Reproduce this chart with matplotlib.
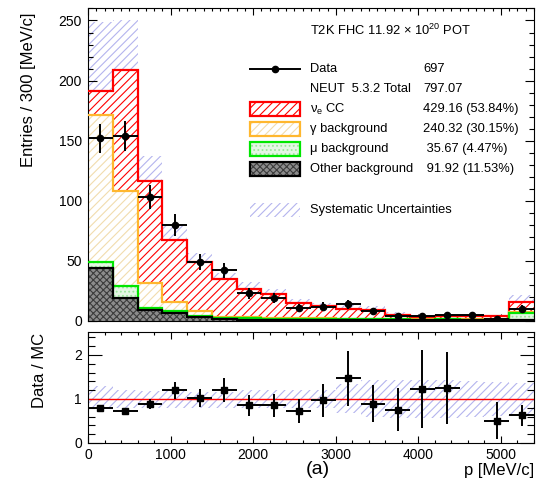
import numpy as np
import matplotlib
matplotlib.use("Agg")
import matplotlib.pyplot as plt
from matplotlib.patches import Rectangle
from matplotlib.lines import Line2D
from matplotlib.ticker import MultipleLocator

plt.rcParams['font.family'] = ['Liberation Sans', 'DejaVu Sans']
plt.rcParams['hatch.linewidth'] = 0.8

# momentum bins [MeV/c]
edges = np.arange(0, 5401, 300)

# predicted events per bin (read from the stack)
other_bg = [44.0, 19.4, 9.2, 6.4, 3.0, 1.4, 1.1, 1.0, 0.9, 0.8, 0.7, 0.6, 0.5, 0.5, 0.5, 0.5, 0.4, 1.2]
mu_bg = [4.7, 10.0, 1.9, 2.2, 1.4, 0.9, 1.1, 1.0, 0.9, 0.9, 0.8, 0.8, 0.8, 0.7, 0.8, 0.7, 0.7, 5.3]
gamma_bg = [122.4, 78.8, 20.1, 6.8, 3.6, 1.3, 0.7, 0.7, 0.7, 0.5, 0.5, 0.5, 0.5, 0.5, 0.5, 0.5, 0.5, 1.0]
nue_cc = [20.2, 100.3, 85.1, 51.9, 41.1, 31.1, 23.8, 19.5, 12.8, 10.6, 7.6, 7.1, 3.5, 1.6, 2.2, 2.1, 2.3, 8.5]

# data
data = [152, 154, 103, 80, 49, 42, 23, 19, 11, 12, 14, 8, 4, 4, 5, 5, 2, 10]
data_err = [12.3, 12.4, 10.1, 8.9, 7.0, 6.5, 4.8, 4.4, 3.3, 3.5, 3.7, 2.8, 2.0, 2.0, 2.2, 2.2, 1.4, 3.2]

# data / MC
ratio = [0.80, 0.735, 0.89, 1.20, 1.02, 1.21, 0.86, 0.86, 0.73, 0.97, 1.47, 0.89, 0.76, 1.23, 1.25, np.nan, 0.51, 0.63]
ratio_err = [0.05, 0.05, 0.11, 0.19, 0.20, 0.27, 0.24, 0.26, 0.27, 0.38, 0.62, 0.42, 0.48, 0.89, 0.82, np.nan, 0.42, 0.24]

# systematic band (relative to MC)
sys_up = [1.30, 1.20, 1.18, 1.18, 1.16, 1.16, 1.20, 1.20, 1.20, 1.20, 1.35, 1.42, 1.43, 1.43, 1.43, 1.40, 1.38, 1.36]
sys_lo = [0.77, 0.79, 0.80, 0.80, 0.80, 0.80, 0.80, 0.80, 0.80, 0.79, 0.68, 0.58, 0.56, 0.56, 0.56, 0.60, 0.62, 0.63]

legend_labels = [r'$\mathregular{\nu_e}$ CC', 'γ background', 'μ background', 'Other background']
legend_values = ['429.16 (53.84%)', '240.32 (30.15%)', ' 35.67 (4.47%)', ' 91.92 (11.53%)']

RED = '#ff0000'
ORANGE = '#ffb72e'
GREEN = '#00e600'
SYS = '#b4b4ee'


def hatched(ax, top, bottom, face, hatch, hcolor, z):
    ax.stairs(top, edges, baseline=bottom, fill=True, facecolor=face,
              edgecolor='none', lw=0, zorder=z)
    if hatch:
        ax.stairs(top, edges, baseline=bottom, fill=True, facecolor='none',
                  edgecolor=hcolor, hatch=hatch, lw=0, zorder=z)


def legend_box(ax, y, face, hatch, hcolor, edge):
    x0, w, h = 0.363, 0.112, 0.045
    ax.add_patch(Rectangle((x0, y - h / 2), w, h, transform=ax.transAxes,
                           facecolor=face, edgecolor='none', lw=0, zorder=20))
    if hatch:
        ax.add_patch(Rectangle((x0, y - h / 2), w, h, transform=ax.transAxes,
                               facecolor='none', edgecolor=hcolor, hatch=hatch, lw=0, zorder=20))
    if edge:
        ax.add_patch(Rectangle((x0, y - h / 2), w, h, transform=ax.transAxes,
                               facecolor='none', edgecolor=edge, lw=1.6, zorder=21))


def style_ticks(ax, ymaj, ymin, xmin, ylen):
    ax.xaxis.set_major_locator(MultipleLocator(1000))
    ax.xaxis.set_minor_locator(MultipleLocator(xmin))
    ax.yaxis.set_major_locator(MultipleLocator(ymaj))
    ax.yaxis.set_minor_locator(MultipleLocator(ymin))
    ax.tick_params(which='both', direction='in', top=True, right=True, labelsize=10, width=0.8)
    ax.tick_params(axis='x', which='major', length=5, pad=3.5)
    ax.tick_params(axis='x', which='minor', length=2.5)
    ax.tick_params(axis='y', which='major', length=ylen, pad=4.5)
    ax.tick_params(axis='y', which='minor', length=ylen / 2)
    for s in ax.spines.values():
        s.set_linewidth(0.8)


fig = plt.figure(figsize=(5.37, 4.79), dpi=100)
ax = fig.add_axes([0.1639, 0.3299, 0.8305, 0.6524])
rax = fig.add_axes([0.1639, 0.0752, 0.8305, 0.2324])

c1 = np.array(other_bg)
c2 = c1 + np.array(mu_bg)
c3 = c2 + np.array(gamma_bg)
total = c3 + np.array(nue_cc)
centers = 0.5 * (edges[:-1] + edges[1:])

# systematic band behind the stack
hatched(ax, total * np.array(sys_up), total * np.array(sys_lo), 'none', '////', SYS, 1)

hatched(ax, total, c3, 'white', '////', RED, 2)
hatched(ax, c3, c2, 'white', '////', '#f2dcae', 2)
hatched(ax, c2, c1, '#e4f7e4', '....', '#9be69b', 2)
hatched(ax, c1, 0, '#8c8c8c', 'xxxxx', '#3c3c3c', 2)

ax.stairs(total, edges, baseline=None, color=RED, lw=1.6, zorder=3)
ax.stairs(c3, edges, baseline=None, color=ORANGE, lw=1.6, zorder=3)
ax.stairs(c2, edges, baseline=None, color=GREEN, lw=1.6, zorder=3)
ax.stairs(c1, edges, baseline=None, color='black', lw=1.6, zorder=3)

ax.errorbar(centers, data, xerr=150, yerr=data_err, fmt='o', color='black',
            ms=4.5, elinewidth=1.4, capsize=0, zorder=10)

ax.set_xlim(0, 5400)
ax.set_ylim(0, 260)
style_ticks(ax, 50, 10, 100, 6.5)
ax.tick_params(labelbottom=False)

# legend
fs = 9.3
ax.text(0.498, 0.931, 'T2K FHC 11.92 × $\\mathregular{10^{20}}$ POT', transform=ax.transAxes,
        fontsize=fs, va='center', ha='left')
ax.add_line(Line2D([0.363, 0.419, 0.475], [0.805, 0.805, 0.805], transform=ax.transAxes,
                   color='black', lw=1.4, marker='o', markevery=[1], ms=4.5, zorder=20))
ax.text(0.498, 0.805, 'Data', transform=ax.transAxes, fontsize=fs, va='center')
ax.text(0.753, 0.805, '697', transform=ax.transAxes, fontsize=fs, va='center')
ax.text(0.498, 0.741, 'NEUT  5.3.2 Total', transform=ax.transAxes, fontsize=fs, va='center')
ax.text(0.753, 0.741, '797.07', transform=ax.transAxes, fontsize=fs, va='center')

rows = [0.678, 0.614, 0.550, 0.486]
legend_box(ax, rows[0], 'white', '////', RED, RED)
legend_box(ax, rows[1], 'white', '////', '#f2dcae', ORANGE)
legend_box(ax, rows[2], '#e4f7e4', '....', '#9be69b', GREEN)
legend_box(ax, rows[3], '#8c8c8c', 'xxxxx', '#3c3c3c', 'black')
for y, lab, val in zip(rows, legend_labels, legend_values):
    ax.text(0.498, y, lab, transform=ax.transAxes, fontsize=fs, va='center')
    ax.text(0.751, y, val, transform=ax.transAxes, fontsize=fs, va='center')

legend_box(ax, 0.355, 'none', '////', SYS, None)
ax.text(0.498, 0.355, 'Systematic Uncertainties', transform=ax.transAxes, fontsize=fs, va='center')

# ratio panel
rax.stairs(sys_up, edges, baseline=sys_lo, fill=True, facecolor='none',
           edgecolor=SYS, hatch='////', lw=0, zorder=1)
rax.axhline(1, color=RED, lw=1.0, zorder=2)
rax.errorbar(centers, ratio, xerr=150, yerr=ratio_err, fmt='s', color='black',
             ms=5, elinewidth=1.4, capsize=0, zorder=10)
rax.set_xlim(0, 5400)
rax.set_ylim(0, 2.53)
style_ticks(rax, 1, 0.2, 200, 10)

fig.text(29 / 537, 1 - 13 / 479, 'Entries / 300 [MeV/c]', rotation=90, ha='center', va='top', fontsize=12)
fig.text(40 / 537, 1 - 333 / 479, 'Data / MC', rotation=90, ha='center', va='top', fontsize=12)
fig.text(534 / 537, 1 - 471 / 479, 'p [MeV/c]', ha='right', va='center', fontsize=12)
fig.text(318 / 537, 1 - 469 / 479, '(a)', ha='center', va='center', fontsize=14)

fig.savefig('out.png', dpi=100)
